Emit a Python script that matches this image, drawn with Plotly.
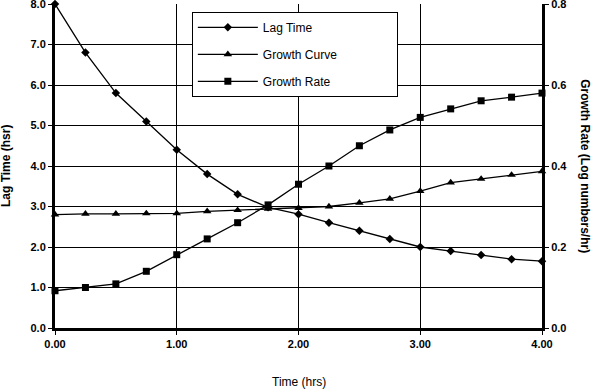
import plotly.graph_objects as go

time_hrs = [0.0, 0.25, 0.5, 0.75, 1.0, 1.25, 1.5, 1.75, 2.0, 2.25, 2.5, 2.75, 3.0, 3.25, 3.5, 3.75, 4.0]
lag_time = [8.0, 6.8, 5.8, 5.1, 4.4, 3.8, 3.3, 2.98, 2.81, 2.6, 2.4, 2.2, 2.0, 1.9, 1.8, 1.7, 1.65]
growth_curve = [2.8, 2.82, 2.82, 2.83, 2.83, 2.88, 2.91, 2.94, 2.96, 3.0, 3.09, 3.19, 3.38, 3.59, 3.68, 3.78, 3.87]
growth_rate = [0.092, 0.10, 0.109, 0.14, 0.181, 0.22, 0.26, 0.304, 0.355, 0.40, 0.45, 0.489, 0.52, 0.541, 0.561, 0.57, 0.58]
series_names = ["Lag Time", "Growth Curve", "Growth Rate"]

left_ticks = [0, 1, 2, 3, 4, 5, 6, 7, 8]
right_ticks = [0.0, 0.2, 0.4, 0.6, 0.8]
x_ticks = [0, 1, 2, 3, 4]

FONT = "Liberation Sans, Arial, sans-serif"
line = dict(color="black", width=1.3)
pad = "\u2003" * 4 + "\u2002"  # widen legend box to the reference size

fig = go.Figure()
fig.add_trace(go.Scatter(x=time_hrs, y=lag_time, name=series_names[0], mode="lines+markers",
                         line=line, marker=dict(symbol="diamond", size=6.5, color="black"),
                         legendgroup="a", cliponaxis=False))
fig.add_trace(go.Scatter(x=time_hrs, y=growth_curve, name=series_names[1] + pad, mode="lines+markers",
                         line=line, marker=dict(symbol="triangle-up", size=7.5, color="black"),
                         legendgroup="b", cliponaxis=False))
fig.add_trace(go.Scatter(x=time_hrs, y=growth_rate, name=series_names[2], mode="lines+markers",
                         line=line, marker=dict(symbol="square", size=7, color="black"),
                         legendgroup="c", yaxis="y2", cliponaxis=False))

tickfont = dict(family=FONT, size=11, color="black", weight="bold")
common = dict(showline=True, linecolor="black", linewidth=3, ticks="outside", ticklen=4,
              tickcolor="black", tickfont=tickfont, zeroline=False, automargin=False,
              ticklabeloverflow="allow")

fig.update_layout(
    width=591, height=391,
    margin=dict(l=55, r=49, t=4, b=63),
    paper_bgcolor="white", plot_bgcolor="white",
    font=dict(family=FONT, color="black"),
    xaxis=dict(range=[0, 4], tickvals=x_ticks, tickformat=".2f", showgrid=True,
               gridcolor="black", gridwidth=1, **common),
    yaxis=dict(range=[0, 8], tickvals=left_ticks, tickformat=".1f", showgrid=True,
               gridcolor="black", gridwidth=1, **common),
    yaxis2=dict(range=[0, 0.8], tickvals=right_ticks, tickformat=".1f", overlaying="y", side="right",
                showgrid=False, **common),
    legend=dict(x=0.281, y=0.976, xanchor="left", yanchor="top", bordercolor="black", borderwidth=1,
                bgcolor="white", font=dict(family=FONT, size=12, color="black"), tracegroupgap=8,
                itemwidth=60),
    showlegend=True,
    annotations=[
        dict(text="Time (hrs)", xref="paper", yref="paper", x=0.5, y=-0.1667,
             xanchor="center", yanchor="middle", showarrow=False,
             font=dict(family=FONT, size=12, color="black")),
        dict(text="Lag Time (hsr)", xref="paper", yref="paper", x=-0.1006, y=0.5,
             xanchor="center", yanchor="middle", showarrow=False, textangle=-90,
             font=dict(family=FONT, size=12, color="black", weight="bold")),
        dict(text="Growth Rate (Log numbers/hr)", xref="paper", yref="paper", x=1.088, y=0.5,
             xanchor="center", yanchor="middle", showarrow=False, textangle=90,
             font=dict(family=FONT, size=12, color="black", weight="bold")),
    ],
)

fig.write_html("out.html", config={"displayModeBar": False},
               post_script="document.body.style.margin='0';document.body.style.overflow='hidden';")
